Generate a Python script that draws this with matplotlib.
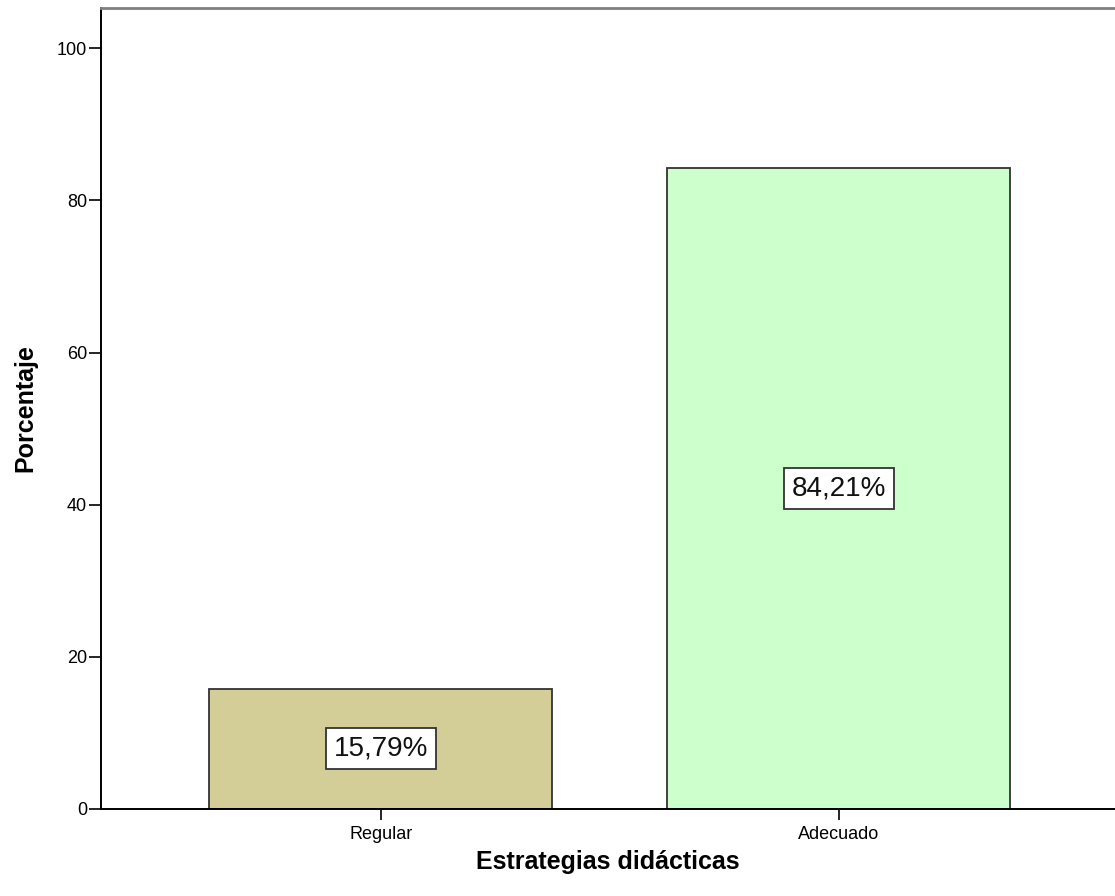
import matplotlib.pyplot as plt

# data
categorias = ["Regular", "Adecuado"]
porcentajes = [15.79, 84.21]
etiquetas = ["15,79%", "84,21%"]
colores = ["#D3CE97", "#CCFFCC"]
yticks = [0, 20, 40, 60, 80, 100]

plt.rcParams['font.family'] = ['Liberation Sans', 'DejaVu Sans']

fig = plt.figure(figsize=(11.15, 8.96), dpi=100)
ax = fig.add_axes([0.0906, 0.0971, 0.9094, 0.8940])

pos = list(range(len(categorias)))
bars = ax.bar(pos, porcentajes, width=0.749, color=colores,
              edgecolor="#333333", linewidth=1.3, zorder=2)

# value boxes in the middle of each bar
for b, txt in zip(bars, etiquetas):
    ax.text(b.get_x() + b.get_width() / 2, b.get_height() / 2, txt,
            ha="center", va="center", fontsize=20, color="#111111",
            bbox=dict(boxstyle="square,pad=0.27", facecolor="white",
                      edgecolor="#333333", linewidth=1.3), zorder=3)

ax.set_xlim(-0.611, 1.603)
ax.set_ylim(0, 105.3)
ax.set_xticks(pos)
ax.set_xticklabels(categorias)
ax.set_yticks(yticks)

ax.tick_params(axis="y", length=9, width=1.2, pad=1, labelsize=13)
ax.tick_params(axis="x", length=8, width=1.2, pad=4, labelsize=13)

ax.spines["right"].set_visible(False)
ax.spines["left"].set_linewidth(1.4)
ax.spines["bottom"].set_linewidth(1.4)
ax.spines["top"].set_color("#808080")
ax.spines["top"].set_linewidth(2)

ax.set_xlabel("Estrategias didácticas", fontsize=18, fontweight="bold", labelpad=5)
ax.set_ylabel("Porcentaje", fontsize=18, fontweight="bold", labelpad=14)

fig.savefig("out.png", dpi=100)
